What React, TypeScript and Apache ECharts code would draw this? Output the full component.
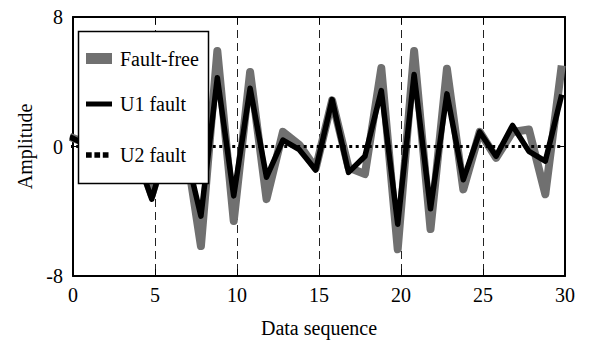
import React, { useEffect, useRef } from "react";
import * as echarts from "echarts";

// sample positions along the data sequence axis
const sequence = [
  -0.2, 0.8, 1.8, 2.8, 3.8, 4.8, 5.8, 6.8, 7.8, 8.8, 9.8, 10.8, 11.8, 12.8, 13.8,
  14.8, 15.8, 16.8, 17.8, 18.8, 19.8, 20.8, 21.8, 22.8, 23.8, 24.8, 25.8, 26.8,
  27.8, 28.8, 29.8,
];
const faultFree = [
  0.6, 0.2, -0.4, 0.5, -0.2, -3.0, 0.3, 0.5, -6.15, 5.9, -4.6, 4.6, -3.25, 0.9,
  0.1, -1.35, 2.85, -1.3, -1.7, 4.85, -6.35, 5.9, -5.1, 4.8, -2.65, 0.9, -0.7,
  0.9, 1.05, -2.95, 5.0,
];
const u1Fault = [
  0.6, 0.1, -0.5, 0.4, -0.3, -3.25, 0.2, 0.0, -4.3, 4.25, -3.05, 3.6, -1.9, 0.4,
  -0.2, -1.45, 2.9, -1.6, -0.6, 3.45, -4.8, 4.45, -3.85, 3.25, -2.05, 0.9, -0.6,
  1.3, -0.3, -0.9, 3.2,
];
const u2Fault = [
  0, 0, 0, 0, 0, 0, 0, 0, 0, 0, 0, 0, 0, 0, 0, 0, 0, 0, 0, 0, 0, 0, 0, 0, 0, 0,
  0, 0, 0, 0, 0,
];
const xTicks = [0, 5, 10, 15, 20, 25, 30];
const yTicks = [-8, 0, 8];

const FONT = "Liberation Serif";
const GRAY = "#707070";

function pairs(vals: number[]) {
  return vals.map((v, i) => [sequence[i], v]);
}

export default function App() {
  const ref = useRef<HTMLDivElement>(null);
  useEffect(() => {
    if (!ref.current) return;
    const chart = echarts.init(ref.current, undefined, { renderer: "svg" });
    const axisLine = { show: true, onZero: false, lineStyle: { color: "#000", width: 2 } };
    const tick = { show: true, inside: true, length: 7, lineStyle: { color: "#000", width: 1 } };
    const legendText = { color: "#000", fontFamily: FONT, fontSize: 20 };
    chart.setOption({
      animation: false,
      backgroundColor: "#fff",
      textStyle: { fontFamily: FONT, color: "#000" },
      grid: { left: 73, right: 25, top: 17, bottom: 67 },
      xAxis: [
        {
          type: "value",
          min: xTicks[0],
          max: xTicks[xTicks.length - 1],
          interval: 5,
          position: "bottom",
          axisLine,
          axisTick: tick,
          axisLabel: { color: "#000", fontFamily: FONT, fontSize: 20, margin: 9 },
          splitLine: {
            show: true,
            lineStyle: { color: "#222", width: 1, type: [8, 5] },
          },
          name: "Data sequence",
          nameLocation: "middle",
          nameGap: 42,
          nameTextStyle: { color: "#000", fontFamily: FONT, fontSize: 20 },
        },
        {
          type: "value",
          min: xTicks[0],
          max: xTicks[xTicks.length - 1],
          interval: 5,
          position: "top",
          axisLine,
          axisTick: tick,
          axisLabel: { show: false },
          splitLine: { show: false },
        },
      ],
      yAxis: [
        {
          type: "value",
          min: yTicks[0],
          max: yTicks[yTicks.length - 1],
          interval: 8,
          position: "left",
          axisLine,
          axisTick: tick,
          axisLabel: { color: "#000", fontFamily: FONT, fontSize: 20, margin: 10 },
          splitLine: { show: false },
          name: "Amplitude",
          nameLocation: "middle",
          nameGap: 37,
          nameTextStyle: { color: "#000", fontFamily: FONT, fontSize: 20 },
        },
        {
          type: "value",
          min: yTicks[0],
          max: yTicks[yTicks.length - 1],
          interval: 8,
          position: "right",
          axisLine,
          axisTick: tick,
          axisLabel: { show: false },
          splitLine: { show: false },
        },
      ],
      graphic: [
        {
          type: "rect",
          z: 3,
          shape: { x: 78.5, y: 31.5, width: 130, height: 152 },
          style: { fill: "#fff", stroke: "#000", lineWidth: 1.5 },
        },
      ],
      legend: [
        {
          z: 5,
          left: 86,
          top: 48.5,
          padding: 0,
          selectedMode: false,
          itemWidth: 26,
          itemHeight: 11,
          textStyle: { ...legendText, padding: [0, 0, 0, 3] },
          data: [{ name: "Fault-free", icon: "rect", itemStyle: { color: GRAY, borderWidth: 0 } }],
        },
        {
          z: 5,
          left: 86,
          top: 94,
          padding: 0,
          selectedMode: false,
          itemWidth: 26,
          itemHeight: 5,
          textStyle: { ...legendText, padding: [0, 0, 0, 3] },
          data: [{ name: "U1 fault", icon: "rect", itemStyle: { color: "#000", borderWidth: 0 } }],
        },
        {
          z: 5,
          left: 86,
          top: 145,
          padding: 0,
          selectedMode: false,
          itemWidth: 22.5,
          itemHeight: 5.5,
          textStyle: { ...legendText, padding: [0, 0, 0, 6.5] },
          data: [
            {
              name: "U2 fault",
              icon: "path://M0 0h5.7v5.5H0z M8.4 0h5.7v5.5H8.4z M16.8 0h5.7v5.5h-5.7z",
              itemStyle: { color: "#000", borderWidth: 0 },
            },
          ],
        },
      ],
      series: [
        {
          name: "Fault-free",
          type: "line",
          data: pairs(faultFree),
          showSymbol: false,
          symbol: "none",
          clip: true,
          color: GRAY,
          lineStyle: { color: GRAY, width: 8, join: "round" },
          z: 2,
        },
        {
          name: "U1 fault",
          type: "line",
          data: pairs(u1Fault),
          showSymbol: false,
          symbol: "none",
          clip: true,
          color: "#000",
          lineStyle: { color: "#000", width: 5.5, join: "round" },
          z: 2,
        },
        {
          name: "U2 fault",
          type: "line",
          data: pairs(u2Fault),
          showSymbol: false,
          symbol: "none",
          clip: true,
          color: "#000",
          lineStyle: { color: "#000", width: 3, type: [3, 3.5] },
          z: 2,
        },
      ],
    });
    return () => chart.dispose();
  }, []);
  return (
    <div
      ref={ref}
      style={{ position: "fixed", left: 0, top: 0, width: 590, height: 343 }}
    />
  );
}
